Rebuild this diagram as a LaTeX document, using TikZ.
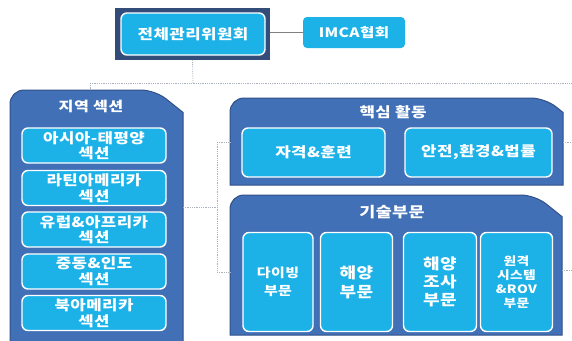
\documentclass[tikz,border=0pt]{standalone}
\usepackage{fontspec}
\setmainfont{Noto Sans CJK KR}
\newfontfamily\krwide{Noto Sans CJK KR}[FakeStretch=1.2,LetterSpace=3]
\definecolor{panelblue}{RGB}{66,112,182}
\definecolor{paneledge}{RGB}{48,80,138}
\definecolor{skyblue}{RGB}{28,178,232}
\definecolor{topnavy}{RGB}{52,76,122}
\definecolor{linkgray}{RGB}{170,178,190}
% panel with rounded top-left and cut top-right corner
\newcommand{\orgpanel}[5]{%
  \path[fill=panelblue,draw=paneledge,line width=1pt]
    (#1,#4) [rounded corners=14pt] |- (#3-#5,#2) [sharp corners]
    -- (#3,#2+#5*0.8) -- (#3,#4) -- cycle;}
\newcommand{\krfont}[2]{\krwide\bfseries\fontsize{#1}{#2}\selectfont}
\begin{document}
\begin{tikzpicture}[x=1pt,y=-1pt,
  thick,
  sub box/.style={rectangle,rounded corners=6pt,fill=skyblue,draw=white,line width=1.4pt,
    text=white,font=\krfont{14}{15.5},align=center,inner sep=1pt},
  panel title/.style={text=white,font=\krfont{13.5}{15}},
  link/.style={draw=linkgray,line width=0.8pt,densely dotted},
  solid link/.style={draw=gray,line width=1pt}]
  \useasboundingbox (0,0) rectangle (572,340);

  % top
  \node[fill=topnavy,minimum width=155pt,minimum height=52pt] (topframe) at (192.5,34) {};
  \node[sub box,minimum width=144pt,minimum height=42pt,font=\krfont{14}{16}] (board) at (193,34) {전체관리위원회};
  \node[rectangle,rounded corners=4pt,fill=skyblue,text=white,minimum width=102pt,minimum height=31pt,
    font=\krfont{13}{14}] (imca) at (354,32.5) {IMCA협회};
  \path[solid link] (topframe.east |- imca) -- (imca.west);

  \coordinate (trunk) at (193,83);
  \coordinate (leftdrop) at (90,83);
  \coordinate (rightend) at (572,83);
  \path[link] (topframe.south) -- (trunk);
  \path[link] (leftdrop) -- (rightend);
  \path[link] (leftdrop) -- (90,90);

  % panels
  \orgpanel{10}{90}{183}{345}{28}
  \orgpanel{230}{98}{563}{185}{18}
  \orgpanel{230}{195}{562}{335}{27}

  \node[panel title] (region) at (91,106) {지역 섹션};
  \node[panel title,font=\krfont{14}{16}] (core) at (393,112) {핵심 활동};
  \node[panel title,font=\krfont{14.5}{16}] (tech) at (392,212) {기술부문};

  % regional sections
  \node[sub box,minimum width=144pt,minimum height=35pt] (asia) at (94,145.5) {아시아-태평양\\섹션};
  \node[sub box,minimum width=144pt,minimum height=35pt] (latin) at (94,188) {라틴아메리카\\섹션};
  \node[sub box,minimum width=144pt,minimum height=35pt] (europe) at (94,229.5) {유럽\&아프리카\\섹션};
  \node[sub box,minimum width=144pt,minimum height=35pt] (mideast) at (94,271.5) {중동\&인도\\섹션};
  \node[sub box,minimum width=144pt,minimum height=35pt] (namerica) at (94,313) {북아메리카\\섹션};

  % core activities
  \node[sub box,minimum width=143pt,minimum height=49pt,font=\krfont{14}{15}] (training) at (313.5,152.5) {자격\&훈련};
  \node[sub box,minimum width=147pt,minimum height=49pt,font=\krfont{14}{15}] (safety) at (478.5,152.5) {안전,환경\&법률};

  % technical divisions
  \node[sub box,minimum width=70pt,minimum height=99pt,font=\krfont{12.5}{18}] (diving) at (278,282) {다이빙\\부문};
  \node[sub box,minimum width=72pt,minimum height=99pt,font=\krfont{15}{19}] (marine) at (356.5,282) {해양\\부문};
  \node[sub box,minimum width=73pt,minimum height=99pt,font=\krfont{15}{18}] (survey) at (440,282) {해양\\조사\\부문};
  \node[sub box,minimum width=72pt,minimum height=99pt,font=\krfont{11.5}{14}] (remote) at (516.5,282) {원격\\시스템\\\&ROV\\부문};

  % dotted links between panels
  \coordinate (midjoin) at (217,207);
  \coordinate (upjoin) at (217,142);
  \coordinate (lowjoin) at (217,272);
  \path[link] (183,207) -- (midjoin);
  \path[link] (upjoin) -- (lowjoin);
  \path[link] (upjoin) -- (230,142);
  \path[link] (lowjoin) -- (230,272);
  \path[link] (563,142) -- (572,142);
  \path[link] (562,270) -- (572,270);
\end{tikzpicture}
\end{document}
